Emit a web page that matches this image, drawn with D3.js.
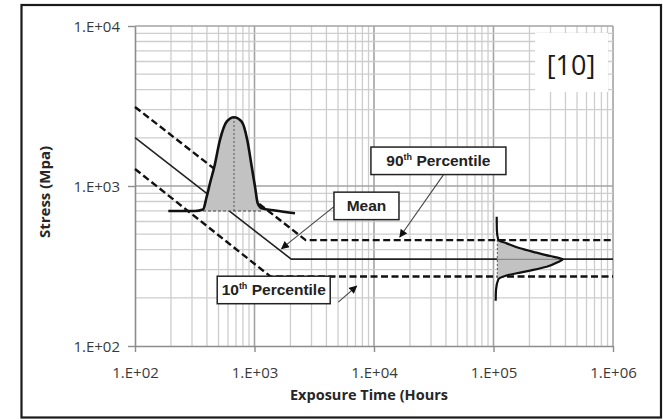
<!DOCTYPE html>
<html>
<head>
<meta charset="utf-8">
<script src="https://cdn.jsdelivr.net/npm/d3@7"></script>
<style>
  html, body { margin: 0; padding: 0; background: #fff; }
  svg { display: block; }
</style>
</head>
<body>
<svg id="chart" width="663" height="420"></svg>
<script>
// ---------------- data ----------------
const xTicks = [1e2, 1e3, 1e4, 1e5, 1e6];
const xTickLabels = ["1.E+02", "1.E+03", "1.E+04", "1.E+05", "1.E+06"];
const yTicks = [1e2, 1e3, 1e4];
const yTickLabels = ["1.E+02", "1.E+03", "1.E+04"];

// S-N style curves: exposure time (hours) vs stress (MPa)
const meanHours = [100, 2030, 1000000];
const meanStress = [2005, 349, 349];
const p90Hours = [100, 2680, 1000000];
const p90Stress = [3120, 459, 459];
const p10Hours = [100, 1360, 1000000];
const p10Stress = [1278, 272, 272];

// distribution of life at a given stress (bell drawn over time axis)
const bell1Hours  = [190, 318, 371, 398, 424, 461, 514, 585, 674, 781, 870, 948, 1010, 1064, 1149, 1484, 2182];
const bell1Stress = [698, 698, 713, 857, 1040, 1320, 1939, 2523, 2688, 2523, 1939, 1320, 990, 780, 726, 703, 675];
const bell1Base = 698;
const bell1PeakHours = 674;

// distribution of strength at a long exposure time (bell drawn over stress axis)
const bell2Hours  = [106400, 106700, 109700, 129000, 166700, 229900, 297000, 360200, 379500, 348600, 278700, 215300, 156400, 124800, 109700, 104900, 104300];
const bell2Stress = [643, 531, 460, 438, 408, 383, 365, 353, 348, 335, 313, 299, 285, 274, 261, 224, 192];
const bell2Base = 107600;
const bell2PeakStress = 348;

// annotations
const labelNames = ["90th", "Mean", "10th"];
const labelHours = [34600, 8650, 1448];
const labelStress = [1437, 751, 224];
const arrowFromHours = [38600, 4624, 5024];
const arrowFromStress = [1190, 743, 188];
const arrowToHours = [16440, 1683, 7161];
const arrowToStress = [480, 406, 237];
const refText = "[10]";

// ---------------- layout ----------------
const svg = d3.select("#chart");
const plot = { left: 135, right: 613, top: 26, bottom: 346 };
const x = d3.scaleLog().domain([1e2, 1e6]).range([plot.left, plot.right]);
const y = d3.scaleLog().domain([1e2, 1e4]).range([plot.bottom, plot.top]);
const isMajor = v => Math.abs(Math.log10(v) - Math.round(Math.log10(v))) < 1e-9;

svg.append("rect").attr("width", 663).attr("height", 420).attr("fill", "#fff");

// gridlines
const grid = svg.append("g");
x.ticks().forEach(v => {
  if (v === 1e2) return;
  grid.append("line")
    .attr("x1", x(v)).attr("x2", x(v)).attr("y1", plot.top).attr("y2", plot.bottom)
    .attr("stroke", isMajor(v) ? "#a3a3a3" : "#cdcdcd")
    .attr("stroke-width", isMajor(v) ? 1.6 : 1.3);
});
y.ticks().forEach(v => {
  if (v === 1e2) return;
  grid.append("line")
    .attr("y1", y(v)).attr("y2", y(v)).attr("x1", plot.left).attr("x2", plot.right)
    .attr("stroke", isMajor(v) ? "#a3a3a3" : "#cdcdcd")
    .attr("stroke-width", isMajor(v) ? 1.6 : 1.3);
});

// axes
const fontTick = "'Open Sans', 'Liberation Sans', sans-serif";
const xAxis = svg.append("g").attr("transform", `translate(0,${plot.bottom})`)
  .call(d3.axisBottom(x).tickValues(xTicks).tickSize(6).tickSizeOuter(0)
    .tickFormat((d, i) => xTickLabels[i]));
const yAxis = svg.append("g").attr("transform", `translate(${plot.left},0)`)
  .call(d3.axisLeft(y).tickValues(yTicks).tickSize(7).tickSizeOuter(0)
    .tickFormat((d, i) => yTickLabels[i]));
[xAxis, yAxis].forEach(a => {
  a.select(".domain").attr("stroke", "#8c8c8c").attr("stroke-width", 1.6);
  a.selectAll(".tick line").attr("stroke", "#8c8c8c").attr("stroke-width", 1.4);
  a.selectAll(".tick text").attr("fill", "#3a3a3a")
    .style("font-family", fontTick).style("font-size", "15px");
});
xAxis.selectAll(".tick text").attr("dy", "0").attr("y", 32);
yAxis.selectAll(".tick text").attr("x", -15).attr("dy", "0.36em");

// axis titles
svg.append("text").attr("x", 369).attr("y", 400).attr("text-anchor", "middle")
  .style("font-family", fontTick).style("font-weight", "bold").style("font-size", "14.5px")
  .attr("fill", "#262626").text("Exposure Time (Hours");
svg.append("text").attr("transform", "translate(50,192) rotate(-90)").attr("text-anchor", "middle")
  .style("font-family", fontTick).style("font-weight", "bold").style("font-size", "15px")
  .attr("fill", "#262626").text("Stress (Mpa)");

// main lines
const lineGen = d3.line().x(d => x(d[0])).y(d => y(d[1]));
const zip = (a, b) => a.map((v, i) => [v, b[i]]);
svg.append("path").datum(zip(p10Hours, p10Stress)).attr("d", lineGen)
  .attr("fill", "none").attr("stroke", "#111").attr("stroke-width", 2.4).attr("stroke-dasharray", "7,3.5");
svg.append("path").datum(zip(p90Hours, p90Stress)).attr("d", lineGen)
  .attr("fill", "none").attr("stroke", "#111").attr("stroke-width", 2.4).attr("stroke-dasharray", "7,3.5");
svg.append("path").datum(zip(meanHours, meanStress)).attr("d", lineGen)
  .attr("fill", "none").attr("stroke", "#222").attr("stroke-width", 1.6);

// bell 1 (over time)
const b1 = zip(bell1Hours, bell1Stress);
const b1fill = b1.slice(2, 15);
svg.append("path").datum(b1fill)
  .attr("d", d3.area().x(d => x(d[0])).y0(y(bell1Base)).y1(d => y(d[1])).curve(d3.curveMonotoneX))
  .attr("fill", "#c2c2c2").attr("stroke", "none");
svg.append("line").attr("x1", x(bell1PeakHours)).attr("x2", x(bell1PeakHours))
  .attr("y1", y(bell1Base)).attr("y2", y(d3.max(bell1Stress)))
  .attr("stroke", "#555").attr("stroke-width", 1).attr("stroke-dasharray", "2,2");
svg.append("line").attr("x1", x(b1fill[0][0])).attr("x2", x(b1fill[b1fill.length - 1][0]))
  .attr("y1", y(bell1Base)).attr("y2", y(bell1Base))
  .attr("stroke", "#444").attr("stroke-width", 1.2).attr("stroke-dasharray", "3,2");
svg.append("path").datum(b1)
  .attr("d", d3.line().x(d => x(d[0])).y(d => y(d[1])).curve(d3.curveMonotoneX))
  .attr("fill", "none").attr("stroke", "#111").attr("stroke-width", 2.6);

// bell 2 (over stress)
const b2 = zip(bell2Hours, bell2Stress);
const b2fill = b2.slice(2, 15);
svg.append("path").datum(b2fill)
  .attr("d", d3.area().y(d => y(d[1])).x0(x(bell2Base)).x1(d => x(d[0])).curve(d3.curveMonotoneY))
  .attr("fill", "#c2c2c2").attr("stroke", "none");
svg.append("line").attr("x1", x(bell2Base)).attr("x2", x(d3.max(bell2Hours)))
  .attr("y1", y(bell2PeakStress)).attr("y2", y(bell2PeakStress))
  .attr("stroke", "#8a8a8a").attr("stroke-width", 1.2);
svg.append("line").attr("x1", x(bell2Base)).attr("x2", x(bell2Base))
  .attr("y1", y(b2fill[0][1])).attr("y2", y(b2fill[b2fill.length - 1][1]))
  .attr("stroke", "#555").attr("stroke-width", 1).attr("stroke-dasharray", "2,2");
svg.append("path").datum(b2)
  .attr("d", d3.line().x(d => x(d[0])).y(d => y(d[1])).curve(d3.curveMonotoneY))
  .attr("fill", "none").attr("stroke", "#111").attr("stroke-width", 2.2);

// arrows
const defs = svg.append("defs");
defs.append("marker").attr("id", "ah").attr("viewBox", "0 0 10 10")
  .attr("refX", 9).attr("refY", 5).attr("markerWidth", 9).attr("markerHeight", 8)
  .attr("markerUnits", "userSpaceOnUse").attr("orient", "auto")
  .append("path").attr("d", "M0,0 L10,5 L0,10 Z").attr("fill", "#111");
labelNames.forEach((n, i) => {
  svg.append("line")
    .attr("x1", x(arrowFromHours[i])).attr("y1", y(arrowFromStress[i]))
    .attr("x2", x(arrowToHours[i])).attr("y2", y(arrowToStress[i]))
    .attr("stroke", "#444").attr("stroke-width", 1.1).attr("marker-end", "url(#ah)");
});

// label boxes
const boxW = [135, 65, 113];
const boxH = 27.5;
const fontLbl = "'Liberation Sans', Arial, sans-serif";
labelNames.forEach((n, i) => {
  const cx = x(labelHours[i]), cy = y(labelStress[i]);
  svg.append("rect").attr("x", cx - boxW[i] / 2).attr("y", cy - boxH / 2)
    .attr("width", boxW[i]).attr("height", boxH)
    .attr("fill", "#fff").attr("stroke", "#222").attr("stroke-width", 1.5);
  const t = svg.append("text").attr("x", cx).attr("y", cy + 5.5).attr("text-anchor", "middle")
    .style("font-family", fontLbl).style("font-weight", "bold").style("font-size", "15.5px")
    .attr("fill", "#222");
  if (n === "Mean") {
    t.text("Mean");
  } else {
    t.append("tspan").text(n.replace("th", ""));
    t.append("tspan").attr("dy", -6).style("font-size", "9px").text("th");
    t.append("tspan").attr("dy", 6).text(" Percentile");
  }
});

// reference tag
svg.append("rect").attr("x", 535).attr("y", 33).attr("width", 73).attr("height", 59).attr("fill", "#fff");
svg.append("text").attr("x", 571).attr("y", 75).attr("text-anchor", "middle")
  .style("font-family", fontTick).style("font-size", "27px").attr("fill", "#1a1a1a").text(refText);

// frame
svg.append("rect").attr("x", 21.5).attr("y", 5).attr("width", 639.5).attr("height", 412.5)
  .attr("fill", "none").attr("stroke", "#1a1a1a").attr("stroke-width", 2.2);
</script>
</body>
</html>
